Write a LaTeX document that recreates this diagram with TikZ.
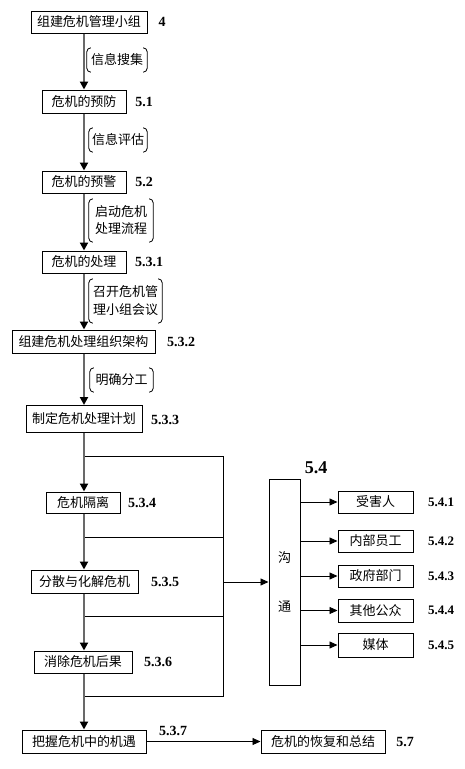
\documentclass[tikz,border=0pt]{standalone}
\usepackage{fontspec}
\setmainfont{Liberation Serif}
\newfontfamily\cjk{Noto Sans CJK SC}
\usetikzlibrary{arrows.meta}
\definecolor{spinegray}{RGB}{105,105,105}
\newcommand\notebrackets[1]{%
  \draw[brk] ([xshift=4pt]#1.north west) -- (#1.north west) -- (#1.south west) -- ([xshift=4pt]#1.south west);
  \draw[brk] ([xshift=-4pt]#1.north east) -- (#1.north east) -- (#1.south east) -- ([xshift=-4pt]#1.south east);}
\begin{document}
\begin{tikzpicture}[x=1pt,y=-1pt,
  box/.style={draw=black,line width=1pt,inner sep=0pt,font=\cjk\fontsize{13}{15}\selectfont,align=center},
  num/.style={font=\bfseries\fontsize{14}{16}\selectfont,inner sep=0pt},
  note/.style={inner sep=0pt,align=center},
  spine/.style={draw=spinegray,line width=2pt,-{Triangle[length=8pt,width=8pt,color=black]}},
  thinl/.style={draw=black,line width=0.9pt},
  tarrow/.style={thinl,-{Triangle[length=8pt,width=7pt]}},
  brk/.style={draw=black,line width=0.8pt,rounded corners=4pt}]
\useasboundingbox[fill=white] (0,0) rectangle (465,769);

% main column boxes
\node[box,minimum width=116pt,minimum height=22pt] (b1) at (89,22) {组建危机管理小组};
\node[box,minimum width=84pt,minimum height=23pt] (b2) at (84,101.5) {危机的预防};
\node[box,minimum width=84pt,minimum height=22pt] (b3) at (84,182) {危机的预警};
\node[box,minimum width=84pt,minimum height=22pt] (b4) at (84,262) {危机的处理};
\node[box,minimum width=143pt,minimum height=23pt] (b5) at (83.5,341.5) {组建危机处理组织架构};
\node[box,minimum width=116pt,minimum height=27pt] (b6) at (84,419) {制定危机处理计划};
\node[box,minimum width=74pt,minimum height=21pt] (b7) at (83,502.5) {危机隔离};
\node[box,minimum width=107pt,minimum height=23pt] (b8) at (84.5,581.5) {分散与化解危机};
\node[box,minimum width=98pt,minimum height=22pt] (b9) at (83,662) {消除危机后果};
\node[box,minimum width=124pt,minimum height=23pt] (b10) at (84,741.5) {把握危机中的机遇};
\node[box,minimum width=124pt,minimum height=23pt] (b11) at (323,741.5) {危机的恢复和总结};

% communication column
\node[box,minimum width=31pt,minimum height=206pt] (comm) at (284.5,582) {};
\node[font=\cjk\fontsize{13}{15}\selectfont,inner sep=0pt] (c1) at (284.5,558) {沟};
\node[font=\cjk\fontsize{13}{15}\selectfont,inner sep=0pt] (c2) at (284.5,607) {通};
\node[box,minimum width=75pt,minimum height=22pt] (r1) at (375.5,502) {受害人};
\node[box,minimum width=75pt,minimum height=22pt] (r2) at (375.5,541) {内部员工};
\node[box,minimum width=75pt,minimum height=22pt] (r3) at (375.5,576) {政府部门};
\node[box,minimum width=75pt,minimum height=23pt] (r4) at (375.5,610.5) {其他公众};
\node[box,minimum width=75pt,minimum height=24pt] (r5) at (375.5,645) {媒体};

% numbers
\node[num] (n1) at (162,22) {4};
\node[num] (n2) at (144,102) {5.1};
\node[num] (n3) at (144,182) {5.2};
\node[num] (n4) at (149,262) {5.3.1};
\node[num] (n5) at (181,342) {5.3.2};
\node[num] (n6) at (165,420) {5.3.3};
\node[num] (n7) at (142,503) {5.3.4};
\node[num] (n8) at (165,582) {5.3.5};
\node[num] (n9) at (158,662) {5.3.6};
\node[num] (n10) at (173,731) {5.3.7};
\node[num] (n11) at (405,742) {5.7};
\node[num,font=\bfseries\fontsize{18}{20}\selectfont] (n12) at (316,468) {5.4};
\node[num,font=\bfseries\fontsize{13}{15}\selectfont] (m1) at (441,502) {5.4.1};
\node[num,font=\bfseries\fontsize{13}{15}\selectfont] (m2) at (441,541) {5.4.2};
\node[num,font=\bfseries\fontsize{13}{15}\selectfont] (m3) at (441,576) {5.4.3};
\node[num,font=\bfseries\fontsize{13}{15}\selectfont] (m4) at (441,610.5) {5.4.4};
\node[num,font=\bfseries\fontsize{13}{15}\selectfont] (m5) at (441,645) {5.4.5};

% bracketed notes
\node[note,minimum width=60pt,minimum height=24pt,font=\cjk\fontsize{13}{15}\selectfont] (l1) at (117,60) {信息搜集};
\node[note,minimum width=58pt,minimum height=24pt,font=\cjk\fontsize{13}{15}\selectfont] (l2) at (118,140) {信息评估};
\node[note,minimum width=64pt,minimum height=43pt,font=\cjk\fontsize{13}{17}\selectfont] (l3) at (121,220.5) {启动危机\\处理流程};
\node[note,minimum width=73pt,minimum height=44pt,font=\cjk\fontsize{13}{18}\selectfont] (l4) at (125.5,301) {召开危机管\\理小组会议};
\node[note,minimum width=63pt,minimum height=24pt,font=\cjk\fontsize{13}{15}\selectfont] (l5) at (121.5,380) {明确分工};
\notebrackets{l1}
\notebrackets{l2}
\notebrackets{l3}
\notebrackets{l4}
\notebrackets{l5}

% frame around the handling steps
\coordinate (sp) at (84,0);
\coordinate (fr) at (223,0);
\coordinate (h1) at (84,456);
\coordinate (h2) at (84,537);
\coordinate (h3) at (84,616);
\coordinate (h4) at (84,696);
\draw[thinl] (h1) -- (h1 -| fr) -- (h4 -| fr) -- (h4);
\draw[thinl] (h2) -- (h2 -| fr);
\draw[thinl] (h3) -- (h3 -| fr);
\draw[tarrow] (comm.west -| fr) -- (comm.west);

% spine
\draw[spine] (b1.south -| sp) -- (b2.north -| sp);
\draw[spine] (b2.south -| sp) -- (b3.north -| sp);
\draw[spine] (b3.south -| sp) -- (b4.north -| sp);
\draw[spine] (b4.south -| sp) -- (b5.north -| sp);
\draw[spine] (b5.south -| sp) -- (b6.north -| sp);
\draw[spine] (b6.south -| sp) -- (b7.north -| sp);
\draw[spine] (b7.south -| sp) -- (b8.north -| sp);
\draw[spine] (b8.south -| sp) -- (b9.north -| sp);
\draw[spine] (b9.south -| sp) -- (b10.north -| sp);

% communication arrows
\foreach \r in {r1,r2,r3,r4,r5}{\draw[tarrow] (\r.west -| comm.east) -- (\r.west);}
\draw[tarrow] (b10.east) -- (b11.west);
\end{tikzpicture}
\end{document}
